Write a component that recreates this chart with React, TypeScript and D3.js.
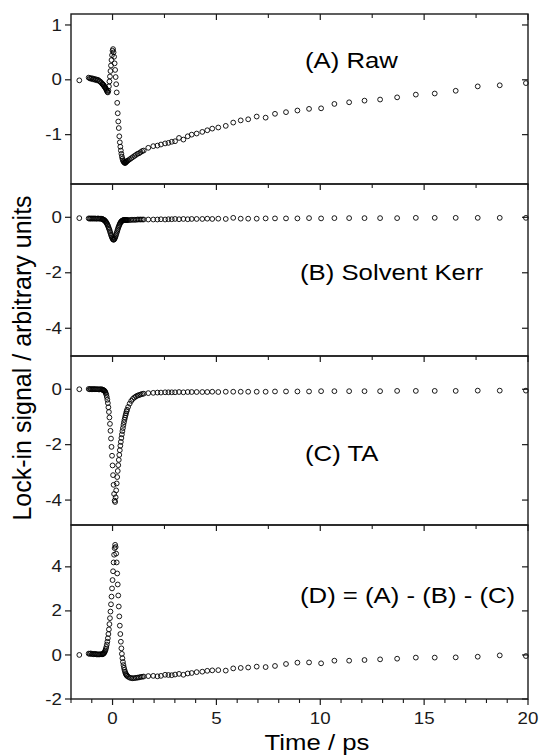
import React from 'react';
import * as d3 from 'd3';

// time grid shared by all four traces (ps)
const timePs = [
  -1.6,
  -1.15, -1.1, -1.05, -1.0, -0.95, -0.9, -0.85, -0.8, -0.75, -0.7, -0.65, -0.6, -0.55,
  -0.5, -0.475, -0.45, -0.425, -0.4, -0.375, -0.35, -0.325, -0.3, -0.275, -0.25, -0.225, -0.2, -0.175, -0.15, -0.125, -0.1, -0.075, -0.05, -0.025,
  0, 0.025, 0.05, 0.075, 0.1, 0.125, 0.15, 0.175, 0.2, 0.225, 0.25, 0.275, 0.3, 0.325, 0.35, 0.375, 0.4, 0.425, 0.45, 0.475, 0.5, 0.525, 0.55, 0.575, 0.6, 0.625, 0.65, 0.675, 0.7,
  0.75, 0.825, 0.9, 0.975, 1.05, 1.125, 1.2, 1.275, 1.35, 1.425, 1.5,
  1.72, 1.96, 2.16, 2.33, 2.53, 2.69, 2.85, 3.01, 3.2, 3.41, 3.62, 3.81, 4.05, 4.32, 4.56, 4.8, 5.09, 5.45, 5.81, 6.17, 6.53, 6.94, 7.37,
  7.82, 8.35, 8.9, 9.46, 10.04, 10.68, 11.39, 12.13, 12.88, 13.7, 14.6, 15.51, 16.52, 17.58, 18.64, 19.9,
];

const rawA = [
  -0.01,
  0.04, 0.03, 0.02, 0.03, 0.01, 0.02, 0.0, 0.01, -0.01, 0.0, -0.02, -0.03, -0.05,
  -0.07, -0.08, -0.09, -0.1, -0.12, -0.13, -0.14, -0.16, -0.18, -0.2, -0.22, -0.23, -0.2, -0.12, -0.03, 0.06, 0.16, 0.26, 0.36, 0.45,
  0.53, 0.56, 0.5, 0.42, 0.3, 0.18, 0.05, -0.08, -0.23, -0.42, -0.61, -0.76, -0.88, -1.03, -1.14, -1.22, -1.29, -1.35, -1.4, -1.44, -1.47, -1.49, -1.5, -1.51, -1.52, -1.51, -1.5, -1.49, -1.48,
  -1.47, -1.45, -1.43, -1.41, -1.39, -1.37, -1.35, -1.34, -1.32, -1.3, -1.29,
  -1.24, -1.21, -1.2, -1.18, -1.16, -1.15, -1.13, -1.12, -1.06, -1.09, -1.03, -1.0, -0.98, -0.95, -0.92, -0.89, -0.87, -0.84, -0.78, -0.74, -0.72, -0.67, -0.69,
  -0.62, -0.59, -0.56, -0.53, -0.52, -0.44, -0.41, -0.38, -0.36, -0.32, -0.27, -0.25, -0.2, -0.12, -0.1, -0.06,
];

const kerrB = [
  -0.03,
  -0.04, -0.05, -0.04, -0.05, -0.04, -0.05, -0.04, -0.05, -0.05, -0.04, -0.05, -0.05, -0.05,
  -0.06, -0.07, -0.08, -0.09, -0.1, -0.12, -0.14, -0.16, -0.19, -0.22, -0.26, -0.3, -0.35, -0.4, -0.45, -0.51, -0.57, -0.63, -0.68, -0.73,
  -0.77, -0.8, -0.81, -0.8, -0.77, -0.73, -0.68, -0.62, -0.56, -0.5, -0.44, -0.38, -0.33, -0.28, -0.24, -0.2, -0.17, -0.15, -0.13, -0.12, -0.11, -0.1, -0.1, -0.1, -0.1, -0.1, -0.1, -0.1, -0.1,
  -0.1, -0.1, -0.09, -0.09, -0.09, -0.09, -0.08, -0.08, -0.08, -0.08, -0.08,
  -0.08, -0.08, -0.08, -0.07, -0.08, -0.07, -0.07, -0.06, -0.07, -0.06, -0.07, -0.06, -0.06, -0.06, -0.05, -0.06, -0.05, -0.06, -0.02, -0.05, -0.05, -0.05, -0.04,
  -0.04, -0.04, -0.04, -0.03, -0.04, -0.03, -0.03, -0.03, -0.03, -0.03, -0.02, -0.02, -0.02, -0.02, -0.02, -0.02,
];

const taC = [
  0.0,
  0.01, 0.0, 0.01, 0.0, 0.0, 0.01, 0.0, 0.0, 0.0, 0.0, -0.01, 0.0, 0.0,
  -0.01, -0.02, -0.03, -0.04, -0.05, -0.07, -0.1, -0.14, -0.2, -0.28, -0.38, -0.5, -0.65, -0.82, -1.02, -1.25, -1.5, -1.78, -2.08, -2.4,
  -2.75, -3.1, -3.45, -3.78, -4.02, -4.07, -3.9, -3.65, -3.4, -3.17, -2.95, -2.74, -2.55, -2.37, -2.2, -2.04, -1.9, -1.76, -1.63, -1.51, -1.4, -1.29, -1.19, -1.1, -1.02, -0.94, -0.87, -0.8, -0.74,
  -0.64, -0.52, -0.42, -0.35, -0.3, -0.26, -0.23, -0.21, -0.19, -0.17, -0.16,
  -0.14, -0.13, -0.12, -0.12, -0.11, -0.11, -0.11, -0.11, -0.1, -0.11, -0.1, -0.1, -0.1, -0.1, -0.1, -0.09, -0.1, -0.09, -0.09, -0.09, -0.09, -0.09, -0.09,
  -0.08, -0.08, -0.08, -0.08, -0.07, -0.07, -0.07, -0.07, -0.07, -0.06, -0.06, -0.06, -0.06, -0.05, -0.05, -0.05,
];

const diffD = [
  0.0,
  0.06, 0.05, 0.07, 0.04, 0.05, 0.03, 0.05, 0.04, 0.02, 0.03, 0.02, 0.03, 0.03,
  0.03, 0.04, 0.05, 0.07, 0.1, 0.14, 0.2, 0.27, 0.36, 0.47, 0.6, 0.76, 0.95, 1.16, 1.4, 1.67, 1.97, 2.3, 2.65, 3.02,
  3.4, 3.8, 4.2, 4.55, 4.85, 5.0, 4.9, 4.6, 4.2, 3.7, 3.2, 2.7, 2.2, 1.75, 1.33, 0.95, 0.6, 0.3, 0.05, -0.15, -0.32, -0.46, -0.58, -0.68, -0.76, -0.83, -0.88, -0.92, -0.95,
  -0.99, -1.03, -1.05, -1.06, -1.05, -1.04, -1.03, -1.02, -1.0, -0.99, -0.98,
  -0.96, -0.95, -0.97, -0.95, -0.9, -0.91, -0.92, -0.89, -0.86, -0.9, -0.84, -0.82, -0.78, -0.76, -0.72, -0.7, -0.69, -0.71, -0.61, -0.59, -0.57, -0.53, -0.55,
  -0.5, -0.41, -0.35, -0.34, -0.38, -0.26, -0.26, -0.23, -0.2, -0.17, -0.12, -0.12, -0.11, -0.08, -0.02, -0.05,
];

const panelLabels = ['(A) Raw', '(B) Solvent Kerr', '(C) TA', '(D) = (A) - (B) - (C)'];
const xMajor = [0, 5, 10, 15, 20];
const xMinorInner = [2.5, 7.5, 12.5, 17.5];
const xMinorBottom = [-2, -1, 1, 2, 3, 4, 6, 7, 8, 9, 11, 12, 13, 14, 16, 17, 18, 19];

const W = 539;
const H = 756;
const left = 71;
const right = 528;
const font = 'Liberation Sans, Arial, Helvetica, sans-serif';
const stretch = 'scale(1.17,1)';
const ink = '#1a1a1a';

const panels = [
  { values: rawA, domain: [-1.9, 1.2], ticks: [-1, 0, 1], top: 14, bottom: 184, lx: 305, ly: 68 },
  { values: kerrB, domain: [-5, 1.2], ticks: [-4, -2, 0], top: 184, bottom: 356, lx: 300, ly: 280 },
  { values: taC, domain: [-4.9, 1.2], ticks: [-4, -2, 0], top: 356, bottom: 525, lx: 305, ly: 461 },
  { values: diffD, domain: [-2, 5.9], ticks: [-2, 0, 2, 4], top: 525, bottom: 699, lx: 300, ly: 603 },
];

const fmt = (v: number) => (v < 0 ? '-' + Math.abs(v) : String(v));

export default function App() {
  const x = d3.scaleLinear().domain([-2, 20]).range([left, right]);

  return (
    <svg width={W} height={H} style={{ position: 'absolute', left: 0, top: 0, background: '#fff' }}>
      {panels.map((p, pi) => {
        const y = d3.scaleLinear().domain(p.domain).range([p.bottom, p.top]);
        return (
          <g key={pi}>
            {/* top ticks, pointing down into the panel */}
            {xMajor.map((t) => (
              <line key={'M' + t} x1={x(t)} x2={x(t)} y1={p.top} y2={p.top + 6} stroke={ink} strokeWidth={1.2} />
            ))}
            {xMinorInner.map((t) => (
              <line key={'m' + t} x1={x(t)} x2={x(t)} y1={p.top} y2={p.top + 4} stroke={ink} strokeWidth={1.1} />
            ))}
            {/* y ticks */}
            {p.ticks.map((t) => (
              <g key={'y' + t}>
                <line x1={left - 6} x2={left} y1={y(t)} y2={y(t)} stroke={ink} strokeWidth={1.2} />
                {t !== p.domain[0] || pi === 3 ? (
                  <line x1={right - 6} x2={right} y1={y(t)} y2={y(t)} stroke={ink} strokeWidth={1.2} />
                ) : null}
                <text
                  transform={`translate(${left - 9},${y(t) + 5.6}) ${stretch}`}
                  textAnchor="end"
                  fontFamily={font}
                  fontSize={16}
                  fill={ink}
                >
                  {fmt(t)}
                </text>
              </g>
            ))}
            {/* markers */}
            {timePs.map((t, i) => (
              <circle key={i} cx={x(t)} cy={y(p.values[i])} r={2.4} fill="none" stroke="#000" strokeWidth={0.9} />
            ))}
            <rect x={left} y={p.top} width={right - left} height={p.bottom - p.top} fill="none" stroke={ink} strokeWidth={1.4} />
            <text transform={`translate(${p.lx},${p.ly}) ${stretch}`} fontFamily={font} fontSize={22} fill="#000">
              {panelLabels[pi]}
            </text>
          </g>
        );
      })}
      {/* bottom axis of the last panel */}
      {xMajor.map((t) => (
        <g key={'bx' + t}>
          <line x1={x(t)} x2={x(t)} y1={699} y2={705} stroke={ink} strokeWidth={1.2} />
          <text transform={`translate(${x(t)},${724}) ${stretch}`} textAnchor="middle" fontFamily={font} fontSize={16} fill={ink}>
            {t}
          </text>
        </g>
      ))}
      {xMinorBottom.map((t) => (
        <line key={'bm' + t} x1={x(t)} x2={x(t)} y1={699} y2={703} stroke={ink} strokeWidth={1.1} />
      ))}
      <text transform={`translate(${317},${750}) ${stretch}`} textAnchor="middle" fontFamily={font} fontSize={22} fill="#000">
        Time / ps
      </text>
      <text transform={`translate(31,358) rotate(-90)`} textAnchor="middle" fontFamily={font} fontSize={25} fill="#000">
        Lock-in signal / arbitrary units
      </text>
    </svg>
  );
}
